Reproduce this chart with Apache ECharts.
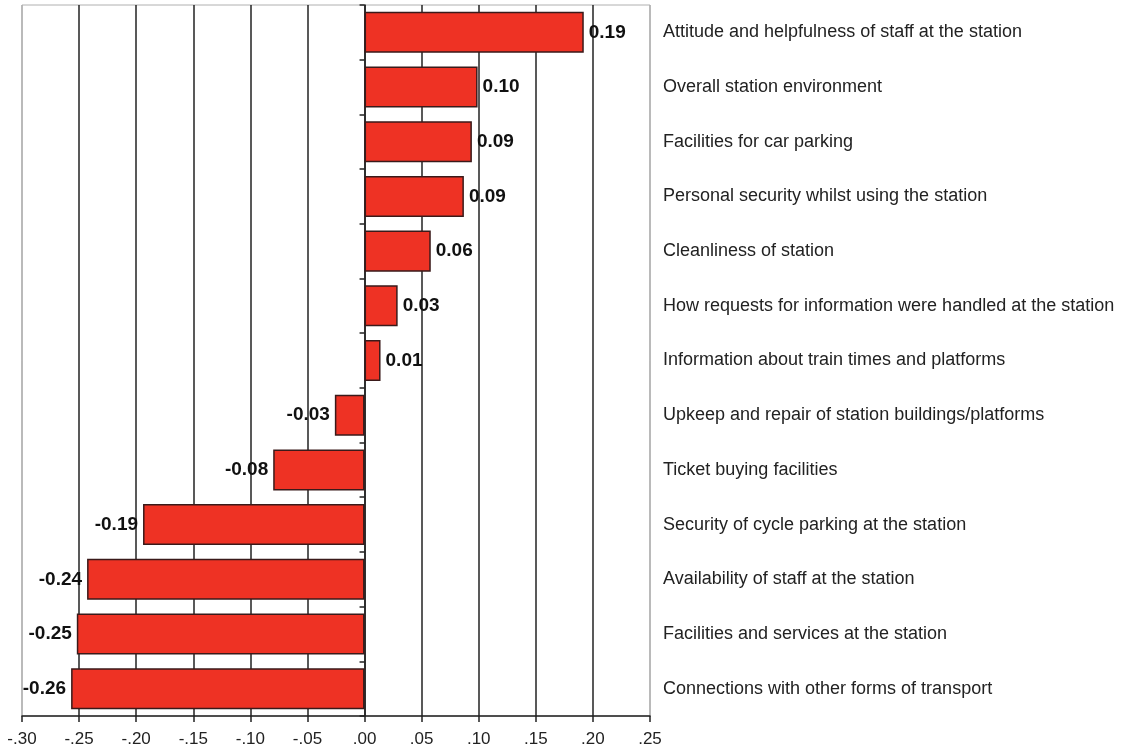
<!DOCTYPE html>
<html>
<head>
<meta charset="utf-8">
<script src="https://cdn.jsdelivr.net/npm/echarts@6/dist/echarts.min.js"></script>
<style>
  html, body { margin: 0; padding: 0; background: #fff; }
  #main { width: 1121px; height: 753px; }
</style>
</head>
<body>
<div id="main"></div>
<script>
var categories = [
    'Attitude and helpfulness of staff at the station',
    'Overall station environment',
    'Facilities for car parking',
    'Personal security whilst using the station',
    'Cleanliness of station',
    'How requests for information were handled at the station',
    'Information about train times and platforms',
    'Upkeep and repair of station buildings/platforms',
    'Ticket buying facilities',
    'Security of cycle parking at the station',
    'Availability of staff at the station',
    'Facilities and services at the station',
    'Connections with other forms of transport'
];
var values = [0.192, 0.099, 0.094, 0.087, 0.058, 0.029, 0.014, -0.026, -0.080, -0.194, -0.243, -0.252, -0.257];

var chartDom = document.getElementById('main');
var myChart = echarts.init(chartDom);
var option;

// 线条颜色：两端是灰色边框，中间是深色网格线
var splitColors = ['#b0b0b0'];
for (var i = 0; i < 10; i++) splitColors.push('#222');
splitColors.push('#b0b0b0');

option = {
    animation: false,
    textStyle: { fontFamily: 'Liberation Sans, Arial, sans-serif' },
    grid: {
        left: 22, right: 471, top: 5, bottom: 37,
        show: true, borderColor: '#b0b0b0', borderWidth: 1
    },
    xAxis: {
        type: 'value',
        min: -0.3, max: 0.25, interval: 0.05,
        axisLine: { show: true, onZero: false, lineStyle: { color: '#222', width: 1.5 } },
        axisTick: { show: true, length: 6, lineStyle: { color: '#222', width: 1.5 } },
        splitLine: { show: true, lineStyle: { color: splitColors, width: 1.5 } },
        axisLabel: {
            margin: 15, fontSize: 17, color: '#222',
            formatter: v => v.toFixed(2).replace('0.', '.')
        }
    },
    yAxis: [
        {
            type: 'category',
            data: categories,
            inverse: true,
            axisLine: { show: true, onZero: true, lineStyle: { color: '#222', width: 1.5 } },
            axisTick: { show: true, length: 5, lineStyle: { color: '#222', width: 1.5 } },
            axisLabel: { show: false },
            splitLine: { show: false }
        },
        {
            type: 'category',
            data: categories,
            inverse: true,
            position: 'right',
            axisLine: { show: false },
            axisTick: { show: false },
            axisLabel: { margin: 13, fontSize: 18, color: '#222', align: 'left' }
        }
    ],
    series: [
        {
            type: 'bar',
            yAxisIndex: 0,
            barCategoryGap: '25%',
            itemStyle: { color: '#ee3224', borderColor: '#3a1a1a', borderWidth: 1.5 },
            label: {
                show: true,
                fontFamily: 'Liberation Sans Narrow, Arial Narrow, Liberation Sans, sans-serif',
                fontSize: 19, fontWeight: 'bold', color: '#111',
                distance: 5,
                formatter: p => p.value.toFixed(2)
            },
            data: values.map(v => ({
                value: v,
                label: { position: v < 0 ? 'left' : 'right' }
            }))
        }
    ]
};

option && myChart.setOption(option);
</script>
</body>
</html>
